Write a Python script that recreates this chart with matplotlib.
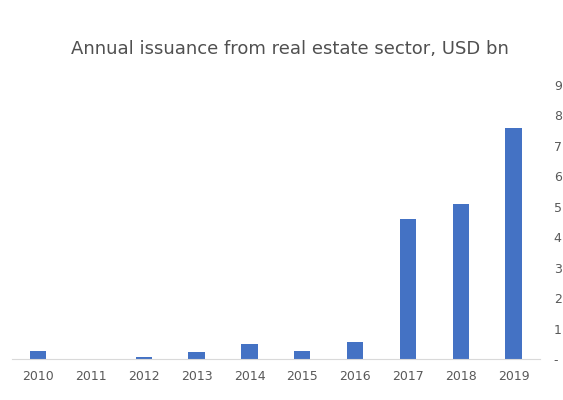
import matplotlib.pyplot as plt
import numpy as np

years = ["2010", "2011", "2012", "2013", "2014", "2015", "2016", "2017", "2018", "2019"]
issuance = [0.26, 0.0, 0.06, 0.23, 0.48, 0.26, 0.57, 4.61, 5.08, 7.6]
y_ticks = [0, 1, 2, 3, 4, 5, 6, 7, 8, 9]
y_labels = ["-", "1", "2", "3", "4", "5", "6", "7", "8", "9"]

text_grey = "#595959"

fig = plt.figure(figsize=(5.63, 4.0), dpi=100)
ax = fig.add_axes([0.021, 0.1025, 0.938, 0.685])

x = np.arange(len(years))
ax.bar(x, issuance, width=0.31, color="#4472C4")

ax.set_xlim(-0.5, len(years) - 0.5)
ax.set_ylim(0, 9)
ax.set_xticks(x)
ax.set_xticklabels(years)
ax.yaxis.tick_right()
ax.set_yticks(y_ticks)
ax.set_yticklabels(y_labels)
ax.tick_params(axis="both", length=0, colors=text_grey, labelsize=9)
ax.tick_params(axis="x", pad=8)
ax.tick_params(axis="y", pad=10)

for side in ["top", "left", "right"]:
    ax.spines[side].set_visible(False)
ax.spines["bottom"].set_color("#d9d9d9")

fig.text(0.515, 0.877, "Annual issuance from real estate sector, USD bn",
         ha="center", va="center", fontsize=13, color="#505050")

fig.savefig("out.png", dpi=100)
